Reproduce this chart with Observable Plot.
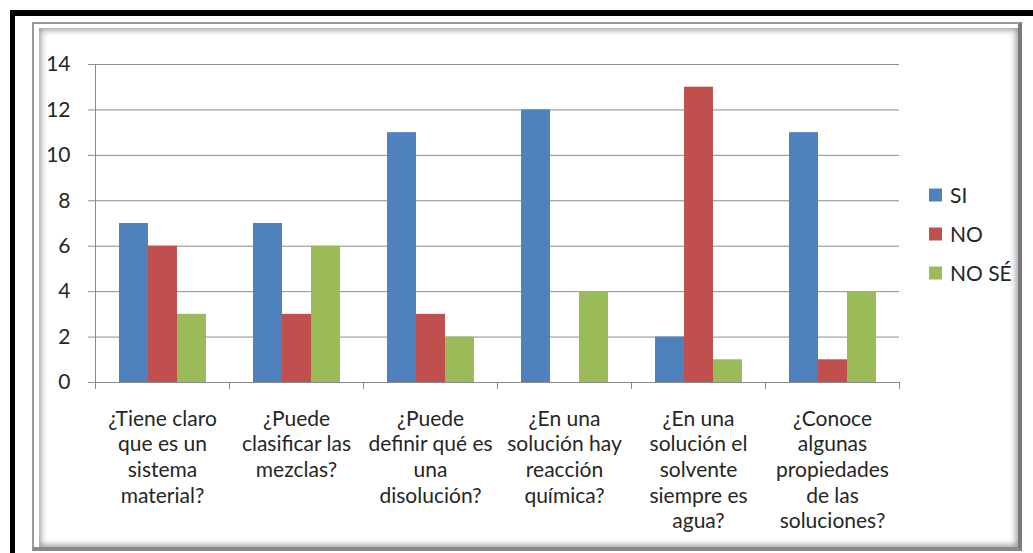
<!DOCTYPE html>
<html><head><meta charset="utf-8">
<script src="https://cdn.jsdelivr.net/npm/d3@7"></script>
<script src="https://cdn.jsdelivr.net/npm/@observablehq/plot@0.6"></script>
<style>
html,body{margin:0;padding:0;background:#fff;}
#wrap{position:relative;width:1033px;height:553px;overflow:hidden;font-family:Lato,sans-serif;background:#fff;}
.blackTop{position:absolute;left:10px;top:10px;width:1023px;height:6px;background:#000;}
.blackLeft{position:absolute;left:10px;top:10px;width:5px;height:543px;background:#000;}
.frameOuter{position:absolute;left:32px;top:22px;width:984px;height:523px;border-left:2px solid #9a9a9a;border-top:2px solid #9a9a9a;border-right:4px solid #7a7a7a;border-bottom:4px solid #8a8a8a;}
.frameInner{position:absolute;left:5px;top:4px;right:0;bottom:0;box-shadow:inset 0 0 6px 2px #9a9a9a;}
#chart{position:absolute;left:0;top:0;}
</style>
</head><body>
<div id="wrap">
  <div class="blackTop"></div>
  <div class="blackLeft"></div>
  <div class="frameOuter"><div class="frameInner"></div></div>
  <div id="chart"></div>
</div>
<script>
const categories = [
  "¿Tiene claro que es un sistema material?",
  "¿Puede clasificar las mezclas?",
  "¿Puede definir qué es una disolución?",
  "¿En una solución hay reacción química?",
  "¿En una solución el solvente siempre es agua?",
  "¿Conoce algunas propiedades de las soluciones?"
];
const tickLabels = [
  "¿Tiene claro\nque es un\nsistema\nmaterial?",
  "¿Puede\nclasificar las\nmezclas?",
  "¿Puede\ndefinir qué es\nuna\ndisolución?",
  "¿En una\nsolución hay\nreacción\nquímica?",
  "¿En una\nsolución el\nsolvente\nsiempre es\nagua?",
  "¿Conoce\nalgunas\npropiedades\nde las\nsoluciones?"
];
const seriesNames = ["SI", "NO", "NO SÉ"];
const siValues   = [7, 7, 11, 12, 2, 11];
const noValues   = [6, 3, 3, 0, 13, 1];
const noseValues = [3, 6, 2, 4, 1, 4];
const seriesColors = ["#4F81BD", "#C0504D", "#9BBB59"];
const yTicks = [0, 2, 4, 6, 8, 10, 12, 14];

const seriesValues = [siValues, noValues, noseValues];
const data = [];
categories.forEach((c, i) => {
  seriesNames.forEach((s, j) => data.push({question: c, series: s, value: seriesValues[j][i]}));
});
const labelOf = new Map(categories.map((c, i) => [c, tickLabels[i]]));

const gridColor = "#8c8c8c";
const textColor = "#262626";
const fs = 21;

const plot = Plot.plot({
  width: 1033,
  height: 553,
  marginLeft: 92,
  marginRight: 132,
  marginTop: 64,
  marginBottom: 171,
  style: {background: "transparent", fontFamily: "Lato, sans-serif", fontSize: fs + "px", overflow: "visible"},
  fx: {domain: categories, padding: 0},
  x: {domain: seriesNames, paddingInner: 0, paddingOuter: 0.75, axis: null},
  y: {domain: [0, 14]},
  color: {domain: seriesNames, range: seriesColors},
  marks: [
    Plot.gridY({ticks: yTicks, stroke: gridColor, strokeOpacity: 1}),
    Plot.axisY({ticks: yTicks, tickSize: 7, tickPadding: 18, stroke: gridColor, fill: textColor, fontSize: fs, label: null}),
    Plot.axisFx({anchor: "bottom", tickSize: 0, tickPadding: 25, tickFormat: d => labelOf.get(d), lineHeight: 1.22, fontSize: fs, fill: textColor, label: null}),
    Plot.barY(data, {fx: "question", x: "series", y: "value", fill: "series", inset: 0}),
    Plot.ruleY([0], {stroke: gridColor})
  ]
});
document.getElementById("chart").appendChild(plot);

// axis line and category boundary ticks, from Plot's scales
const fx = plot.scale("fx"), y = plot.scale("y"), color = plot.scale("color");
const svg = d3.select(plot);
const y0 = y.apply(0), yTop = y.apply(14);
const g = svg.append("g").attr("stroke", gridColor).attr("shape-rendering", "crispEdges");
const x0 = fx.apply(categories[0]);
g.append("line").attr("x1", x0).attr("x2", x0).attr("y1", yTop).attr("y2", y0 + 7);
categories.forEach(c => {
  const xe = fx.apply(c) + fx.bandwidth;
  g.append("line").attr("x1", xe).attr("x2", xe).attr("y1", y0).attr("y2", y0 + 7);
});

// legend
const lg = svg.append("g").attr("text-anchor", "start");
seriesNames.forEach((s, i) => {
  const cy = 195 + i * 39;
  lg.append("rect").attr("x", 929).attr("y", cy - 6.5).attr("width", 13).attr("height", 13).attr("fill", color.apply(s));
  lg.append("text").attr("x", 950).attr("y", cy).attr("dy", "0.36em").attr("fill", textColor)
    .attr("text-anchor", "start")
    .attr("font-size", fs).attr("font-family", "Lato, sans-serif").text(s);
});
</script>
</body></html>
